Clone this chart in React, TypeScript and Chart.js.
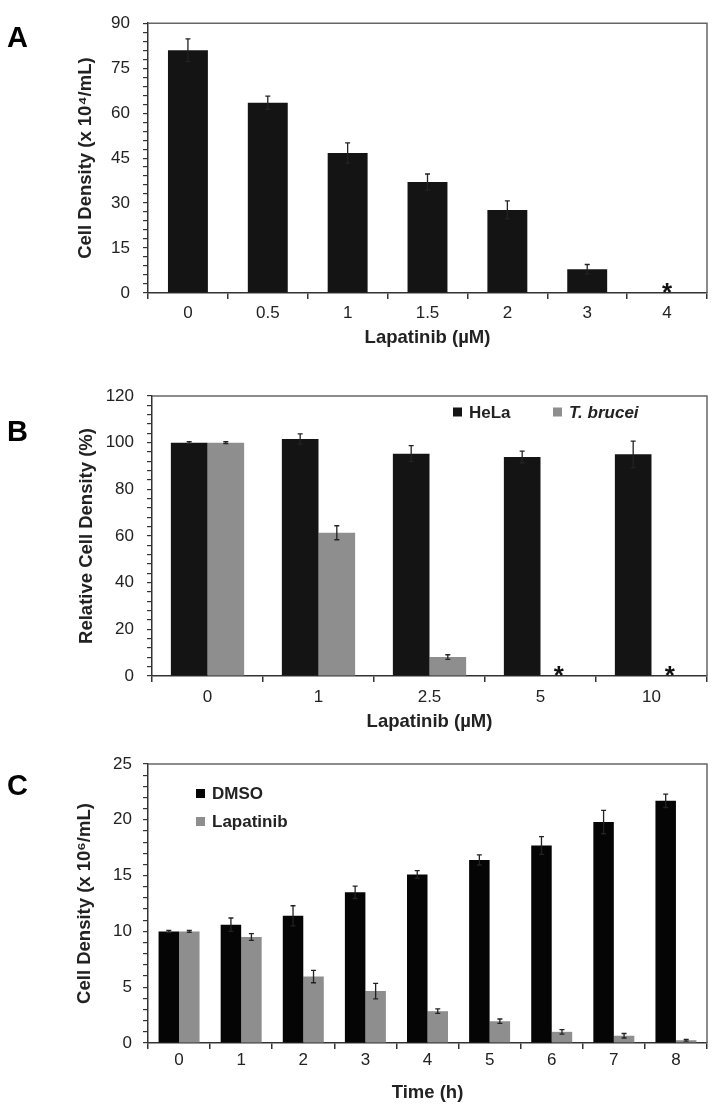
import React, { useEffect, useRef } from 'react';
import { Chart, registerables } from 'chart.js';

Chart.register(...registerables);

const FONT = "'Liberation Sans', Arial, Helvetica, sans-serif";
const BLACK = '#141414';
const GRAY = '#8e8e8e';
const AXIS = '#333333';
const TEXT = '#222222';

// ---------- Panel A ----------
const aLabels = ['0', '0.5', '1', '1.5', '2', '3', '4'];
const aValues = [81, 63.5, 46.7, 37, 27.7, 7.9, 0];
const aErrors = [3.8, 2.2, 3.4, 2.7, 3.0, 1.6, 0];
const aStars = [false, false, false, false, false, false, true];
const aYMax = 90;
const aYMinor = 3;
const aYTicks = [0, 15, 30, 45, 60, 75, 90];

// ---------- Panel B ----------
const bLabels = ['0', '1', '2.5', '5', '10'];
const bHela = [100, 101.6, 95.3, 93.9, 95.0];
const bHelaErr = [0.4, 2.2, 3.4, 2.5, 5.7];
const bTb = [100, 61.4, 8.1, 0, 0];
const bTbErr = [0.4, 3.0, 1.0, 0, 0];
const bTbStars = [false, false, false, true, true];
const bYMax = 120;
const bYMinor = 4;
const bYTicks = [0, 20, 40, 60, 80, 100, 120];

// ---------- Panel C ----------
const cLabels = ['0', '1', '2', '3', '4', '5', '6', '7', '8'];
const cDmso = [10, 10.6, 11.4, 13.5, 15.1, 16.4, 17.7, 19.8, 21.7];
const cDmsoErr = [0.1, 0.6, 0.9, 0.55, 0.35, 0.45, 0.8, 1.05, 0.6];
const cLap = [10, 9.5, 5.95, 4.65, 2.85, 1.95, 1.0, 0.65, 0.25];
const cLapErr = [0.08, 0.3, 0.55, 0.7, 0.2, 0.2, 0.2, 0.2, 0.08];
const cYMax = 25;
const cYMinor = 1;
const cYTicks = [0, 5, 10, 15, 20, 25];

const decorPlugin = {
  id: 'decor',
  beforeDatasetsDraw(chart: any) {
    const { ctx, chartArea } = chart;
    const { left, right, top, bottom } = chartArea;
    ctx.save();
    ctx.strokeStyle = '#666666';
    ctx.lineWidth = 1.5;
    ctx.beginPath();
    ctx.moveTo(left, top);
    ctx.lineTo(right, top);
    ctx.lineTo(right, bottom);
    ctx.stroke();
    ctx.restore();
  },
  afterDatasetsDraw(chart: any, _args: any, opts: any) {
    const { ctx, chartArea } = chart;
    const y = chart.scales.y;
    ctx.save();
    chart.data.datasets.forEach((ds: any, i: number) => {
      const meta = chart.getDatasetMeta(i);
      meta.data.forEach((bar: any, j: number) => {
        const v = ds.data[j];
        const e = ds.errors ? ds.errors[j] : 0;
        if (e > 0) {
          const yt = y.getPixelForValue(v + e);
          const yb = y.getPixelForValue(Math.max(v - e, 0));
          ctx.strokeStyle = '#222222';
          ctx.lineWidth = 1.3;
          ctx.beginPath();
          ctx.moveTo(bar.x, yt);
          ctx.lineTo(bar.x, yb);
          ctx.moveTo(bar.x - 2.5, yt);
          ctx.lineTo(bar.x + 2.5, yt);
          ctx.moveTo(bar.x - 2.5, yb);
          ctx.lineTo(bar.x + 2.5, yb);
          ctx.stroke();
        }
        if (ds.stars && ds.stars[j]) {
          ctx.fillStyle = '#111111';
          ctx.font = `bold 26px ${FONT}`;
          ctx.textAlign = 'center';
          ctx.textBaseline = 'alphabetic';
          ctx.fillText('*', bar.x, y.getPixelForValue(0) + 8);
        }
      });
    });
    if (opts.legend) {
      const L = opts.legend;
      chart.data.datasets.forEach((ds: any, i: number) => {
        const sx = chartArea.left + L.x + i * L.dx;
        const sy = chartArea.top + L.y + i * L.dy;
        ctx.fillStyle = ds.backgroundColor;
        ctx.fillRect(sx, sy - 4.5, 9, 9);
        ctx.fillStyle = TEXT;
        ctx.font = `${ds.legendItalic ? 'italic ' : ''}bold 17px ${FONT}`;
        ctx.textAlign = 'left';
        ctx.textBaseline = 'middle';
        ctx.fillText(ds.label, sx + L.textGap, sy + 1);
      });
    }
    if (opts.letter) {
      ctx.fillStyle = '#000000';
      ctx.font = `bold 29px ${FONT}`;
      ctx.textAlign = 'left';
      ctx.textBaseline = 'alphabetic';
      ctx.fillText(opts.letter, opts.letterX, opts.letterBaseline);
    }
    ctx.restore();
  },
};

type PanelCfg = {
  width: number;
  height: number;
  labels: string[];
  datasets: any[];
  yMax: number;
  yMinor: number;
  yTicks: number[];
  yTitle: string;
  xTitle: string;
  yWidth: number;
  xHeight: number;
  padTop: number;
  yTitlePad: number;
  xTitlePad: number;
  xTickPad: number;
  yTickPad: number;
  catPct: number;
  barPct: number;
  letter: string;
  letterBaseline: number;
  legend?: any;
};

function Panel({ cfg }: { cfg: PanelCfg }) {
  const ref = useRef<HTMLCanvasElement | null>(null);
  useEffect(() => {
    if (!ref.current) return;
    const chart = new Chart(ref.current, {
      type: 'bar',
      data: {
        labels: cfg.labels,
        datasets: cfg.datasets.map((d) => ({
          ...d,
          borderWidth: 0,
          categoryPercentage: cfg.catPct,
          barPercentage: cfg.barPct,
        })),
      },
      options: {
        responsive: false,
        animation: false,
        devicePixelRatio: 1,
        layout: { padding: { top: cfg.padTop, right: 7, left: 0, bottom: 0 } },
        plugins: {
          legend: { display: false },
          tooltip: { enabled: false },
          decor: {
            letter: cfg.letter,
            letterX: 7,
            letterBaseline: cfg.letterBaseline,
            legend: cfg.legend,
          },
        } as any,
        scales: {
          x: {
            grid: {
              display: true,
              drawOnChartArea: false,
              drawTicks: true,
              tickLength: 6,
              color: AXIS,
              lineWidth: 1.5,
              offset: true,
            },
            border: { display: true, color: AXIS, width: 1.5 },
            ticks: {
              color: TEXT,
              font: { family: FONT, size: 17 },
              padding: cfg.xTickPad,
              maxRotation: 0,
            },
            title: {
              display: true,
              text: cfg.xTitle,
              color: TEXT,
              font: { family: FONT, size: 18.5, weight: 'bold' },
              padding: { top: 0, bottom: cfg.xTitlePad },
            },
            afterFit: (s: any) => {
              s.height = cfg.xHeight;
            },
          },
          y: {
            min: 0,
            max: cfg.yMax,
            grid: {
              display: true,
              drawOnChartArea: false,
              drawTicks: true,
              tickLength: 5,
              color: AXIS,
              lineWidth: 1.2,
            },
            border: { display: true, color: AXIS, width: 1.5 },
            ticks: {
              stepSize: cfg.yMinor,
              autoSkip: false,
              color: TEXT,
              font: { family: FONT, size: 17 },
              padding: cfg.yTickPad,
              callback: (v: any) => (cfg.yTicks.includes(Number(v)) ? String(v) : ''),
            },
            title: {
              display: true,
              text: cfg.yTitle,
              color: TEXT,
              font: { family: FONT, size: 18.5, weight: 'bold' },
              padding: { top: cfg.yTitlePad, bottom: 0 },
            },
            afterFit: (s: any) => {
              s.width = cfg.yWidth;
            },
          },
        },
      } as any,
      plugins: [decorPlugin as any],
    });
    return () => chart.destroy();
  }, []);
  return (
    <canvas
      ref={ref}
      width={cfg.width}
      height={cfg.height}
      style={{ display: 'block', width: cfg.width, height: cfg.height }}
    />
  );
}

const panelA: PanelCfg = {
  width: 714,
  height: 355,
  labels: aLabels,
  datasets: [
    { label: 'Cell density', data: aValues, errors: aErrors, stars: aStars, backgroundColor: BLACK },
  ],
  yMax: aYMax,
  yMinor: aYMinor,
  yTicks: aYTicks,
  yTitle: 'Cell Density (x 10\u2074/mL)',
  xTitle: 'Lapatinib (\u00B5M)',
  yWidth: 148,
  xHeight: 62,
  padTop: 12,
  yTitlePad: 75,
  xTitlePad: 6,
  xTickPad: 4,
  yTickPad: 13,
  catPct: 0.5,
  barPct: 1,
  letter: 'A',
  letterBaseline: 47,
};

const panelB: PanelCfg = {
  width: 714,
  height: 385,
  labels: bLabels,
  datasets: [
    { label: 'HeLa', data: bHela, errors: bHelaErr, backgroundColor: BLACK },
    { label: 'T. brucei', data: bTb, errors: bTbErr, stars: bTbStars, backgroundColor: GRAY, legendItalic: true },
  ],
  yMax: bYMax,
  yMinor: bYMinor,
  yTicks: bYTicks,
  yTitle: 'Relative Cell Density (%)',
  xTitle: 'Lapatinib (\u00B5M)',
  yWidth: 152,
  xHeight: 64,
  padTop: 41,
  yTitlePad: 76,
  xTitlePad: 7,
  xTickPad: 5,
  yTickPad: 13,
  catPct: 0.66,
  barPct: 1,
  letter: 'B',
  letterBaseline: 86,
  legend: { x: 301, y: 16, dx: 100, dy: 0, textGap: 16 },
};

const panelC: PanelCfg = {
  width: 714,
  height: 373,
  labels: cLabels,
  datasets: [
    { label: 'DMSO', data: cDmso, errors: cDmsoErr, backgroundColor: '#050505' },
    { label: 'Lapatinib', data: cLap, errors: cLapErr, backgroundColor: GRAY },
  ],
  yMax: cYMax,
  yMinor: cYMinor,
  yTicks: cYTicks,
  yTitle: 'Cell Density (x 10\u2076/mL)',
  xTitle: 'Time (h)',
  yWidth: 148,
  xHeight: 70,
  padTop: 24,
  yTitlePad: 74,
  xTitlePad: 9,
  xTickPad: 1.5,
  yTickPad: 11,
  catPct: 0.66,
  barPct: 1,
  letter: 'C',
  letterBaseline: 55,
  legend: { x: 48, y: 29.5, dx: 0, dy: 28, textGap: 16 },
};

export default function App() {
  return (
    <div
      style={{
        position: 'fixed',
        left: 0,
        top: 0,
        width: 714,
        height: 1113,
        background: '#ffffff',
        overflow: 'hidden',
      }}
    >
      <Panel cfg={panelA} />
      <Panel cfg={panelB} />
      <Panel cfg={panelC} />
    </div>
  );
}
